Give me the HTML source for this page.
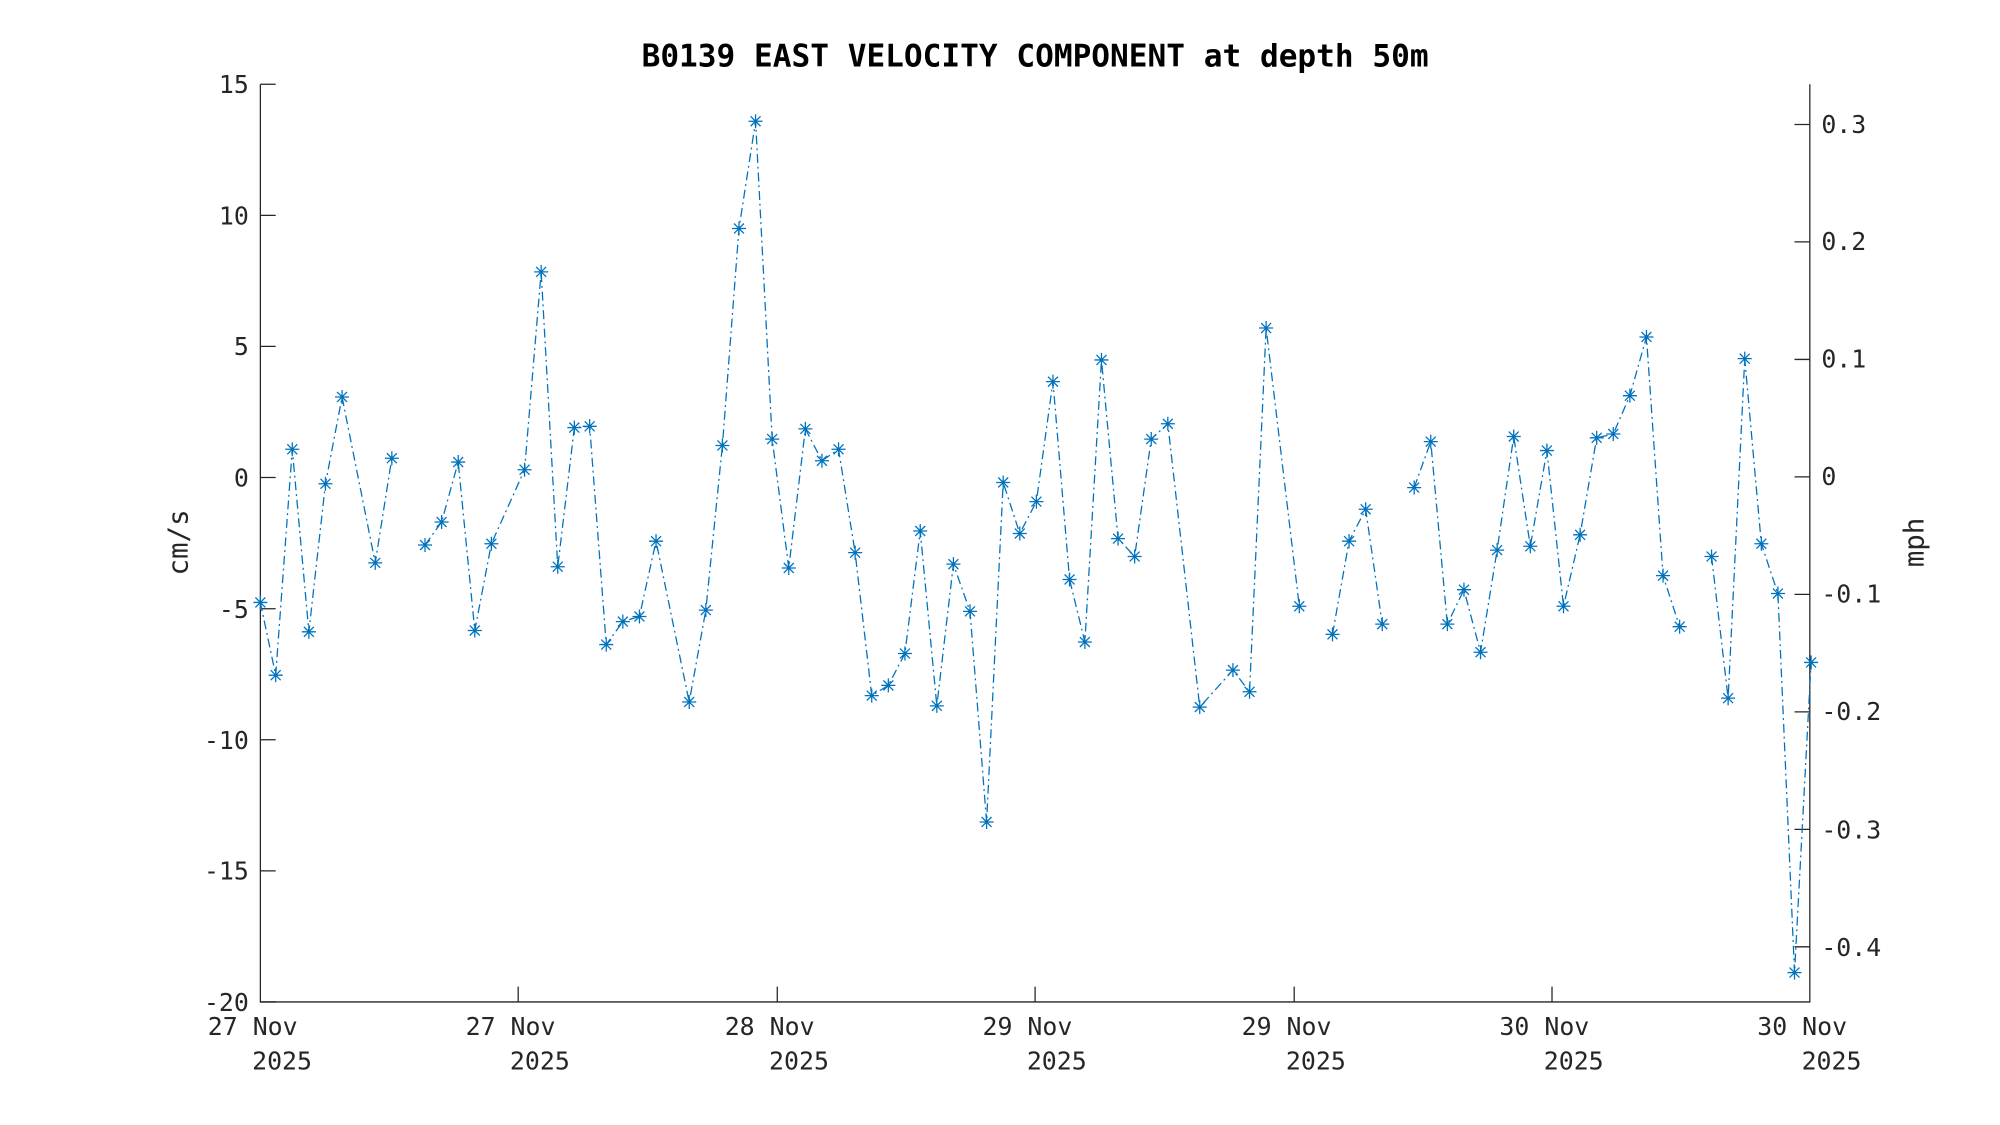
<!DOCTYPE html>
<html><head><meta charset="utf-8"><style>
html,body{margin:0;padding:0;background:#fff;width:2000px;height:1125px;overflow:hidden}
svg{display:block}
text{font-family:"DejaVu Sans Mono","Liberation Mono",monospace;fill:#262626}
</style></head><body>
<svg width="2000" height="1125" viewBox="0 0 1567 881.4" xmlns="http://www.w3.org/2000/svg">
<defs>
<g id="m" stroke="#0072BD" stroke-width="1" fill="none"><path d="M-5.5 0H5.5M0 -5.5V5.5M-3.9 -3.9L3.9 3.9M-3.9 3.9L3.9 -3.9"/></g>
</defs>
<text x="811" y="52" font-size="24.4" font-weight="bold" text-anchor="middle" style="fill:#000">B0139 EAST VELOCITY COMPONENT at depth 50m</text>
<g stroke="#262626" stroke-width="1" fill="none">
<path d="M204 66V785H1418V66"/>
<path d="M204 66h12M204 168.7h12M204 271.4h12M204 374.1h12M204 476.9h12M204 579.6h12M204 682.3h12M204 785h12"/>
<path d="M406 785v-12M609 785v-12M811 785v-12M1014 785v-12M1216 785v-12"/>
<path d="M1418 97.5h-12M1418 189.5h-12M1418 281.6h-12M1418 373.6h-12M1418 465.7h-12M1418 557.7h-12M1418 649.8h-12M1418 741.8h-12"/>
</g>
<g font-size="19.5" text-anchor="end">
<text x="195" y="73">15</text><text x="195" y="176">10</text><text x="195" y="278">5</text><text x="195" y="381">0</text><text x="195" y="484">-5</text><text x="195" y="587">-10</text><text x="195" y="689">-15</text><text x="195" y="792">-20</text>
</g>
<g font-size="19.5">
<text x="1427" y="104">0.3</text><text x="1427" y="196">0.2</text><text x="1427" y="288">0.1</text><text x="1427" y="380">0</text><text x="1427" y="472">-0.1</text><text x="1427" y="564">-0.2</text><text x="1427" y="657">-0.3</text><text x="1427" y="749">-0.4</text>
</g>
<g font-size="19.5" text-anchor="middle">
<text x="198" y="811">27 Nov</text><text x="221" y="838">2025</text>
<text x="400" y="811">27 Nov</text><text x="423" y="838">2025</text>
<text x="603" y="811">28 Nov</text><text x="626" y="838">2025</text>
<text x="805" y="811">29 Nov</text><text x="828" y="838">2025</text>
<text x="1008" y="811">29 Nov</text><text x="1031" y="838">2025</text>
<text x="1210" y="811">30 Nov</text><text x="1233" y="838">2025</text>
<text x="1412" y="811">30 Nov</text><text x="1435" y="838">2025</text>
</g>
<text transform="translate(147 425) rotate(-90)" font-size="21.5" text-anchor="middle">cm/s</text>
<text transform="translate(1507 425) rotate(-90)" font-size="21.5" text-anchor="middle">mph</text>
<g stroke="#0072BD" stroke-width="1" fill="none" stroke-dasharray="7,3,1.5,3">
<polyline points="204,472 216,529 229,352 242,495 255,379 268,311 294,441 307,359"/>
<polyline points="333,427 346,409 359,362 372,494 385,426 411,368 424,213 437,444 450,335 462,334 475,505 488,487 501,483 514,424 540,550 553,478 566,349 579,179 592,95 605,344 618,445 631,336 644,361 657,352 670,433 683,545 696,537 709,512 721,416 734,553 747,442 760,479 773,644 786,378 799,418 812,393 825,299 838,454 850,503 863,282 876,422 889,436 902,344 915,332 940,554 966,525 979,542 992,257 1018,475"/>
<polyline points="1044,497 1057,424 1070,399 1083,489"/>
<polyline points="1108,382 1121,346 1134,489 1147,462 1160,511 1173,431 1186,342 1199,428 1212,353 1225,475 1238,419 1251,343 1264,340 1277,310 1290,264 1303,451 1316,491"/>
<polyline points="1341,436 1354,547 1367,281 1380,426 1393,465 1406,762 1419,519"/>
</g>
<g>
<use href="#m" x="204" y="472"/><use href="#m" x="216" y="529"/><use href="#m" x="229" y="352"/><use href="#m" x="242" y="495"/><use href="#m" x="255" y="379"/><use href="#m" x="268" y="311"/><use href="#m" x="294" y="441"/><use href="#m" x="307" y="359"/>
<use href="#m" x="333" y="427"/><use href="#m" x="346" y="409"/><use href="#m" x="359" y="362"/><use href="#m" x="372" y="494"/><use href="#m" x="385" y="426"/><use href="#m" x="411" y="368"/><use href="#m" x="424" y="213"/><use href="#m" x="437" y="444"/><use href="#m" x="450" y="335"/><use href="#m" x="462" y="334"/><use href="#m" x="475" y="505"/><use href="#m" x="488" y="487"/><use href="#m" x="501" y="483"/><use href="#m" x="514" y="424"/><use href="#m" x="540" y="550"/><use href="#m" x="553" y="478"/><use href="#m" x="566" y="349"/><use href="#m" x="579" y="179"/><use href="#m" x="592" y="95"/><use href="#m" x="605" y="344"/><use href="#m" x="618" y="445"/><use href="#m" x="631" y="336"/><use href="#m" x="644" y="361"/><use href="#m" x="657" y="352"/><use href="#m" x="670" y="433"/><use href="#m" x="683" y="545"/><use href="#m" x="696" y="537"/><use href="#m" x="709" y="512"/><use href="#m" x="721" y="416"/><use href="#m" x="734" y="553"/><use href="#m" x="747" y="442"/><use href="#m" x="760" y="479"/><use href="#m" x="773" y="644"/><use href="#m" x="786" y="378"/><use href="#m" x="799" y="418"/><use href="#m" x="812" y="393"/><use href="#m" x="825" y="299"/><use href="#m" x="838" y="454"/><use href="#m" x="850" y="503"/><use href="#m" x="863" y="282"/><use href="#m" x="876" y="422"/><use href="#m" x="889" y="436"/><use href="#m" x="902" y="344"/><use href="#m" x="915" y="332"/><use href="#m" x="940" y="554"/><use href="#m" x="966" y="525"/><use href="#m" x="979" y="542"/><use href="#m" x="992" y="257"/><use href="#m" x="1018" y="475"/>
<use href="#m" x="1044" y="497"/><use href="#m" x="1057" y="424"/><use href="#m" x="1070" y="399"/><use href="#m" x="1083" y="489"/>
<use href="#m" x="1108" y="382"/><use href="#m" x="1121" y="346"/><use href="#m" x="1134" y="489"/><use href="#m" x="1147" y="462"/><use href="#m" x="1160" y="511"/><use href="#m" x="1173" y="431"/><use href="#m" x="1186" y="342"/><use href="#m" x="1199" y="428"/><use href="#m" x="1212" y="353"/><use href="#m" x="1225" y="475"/><use href="#m" x="1238" y="419"/><use href="#m" x="1251" y="343"/><use href="#m" x="1264" y="340"/><use href="#m" x="1277" y="310"/><use href="#m" x="1290" y="264"/><use href="#m" x="1303" y="451"/><use href="#m" x="1316" y="491"/>
<use href="#m" x="1341" y="436"/><use href="#m" x="1354" y="547"/><use href="#m" x="1367" y="281"/><use href="#m" x="1380" y="426"/><use href="#m" x="1393" y="465"/><use href="#m" x="1406" y="762"/><use href="#m" x="1419" y="519"/>
</g>
</svg>
</body></html>
